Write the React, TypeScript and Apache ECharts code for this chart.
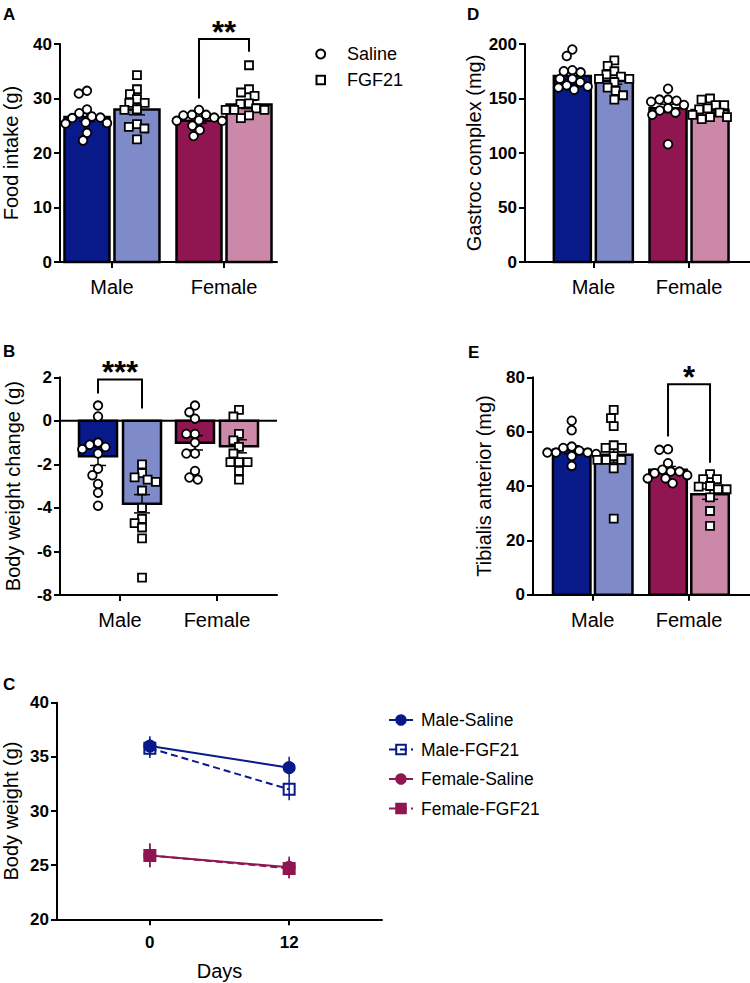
import React, { useEffect, useRef } from 'react';
import * as echarts from 'echarts';

const FONT = '"Liberation Sans", Arial, Helvetica, sans-serif';
const BLACK = '#000000';
const NAVY = '#08198a';
const LIGHT_BLUE = '#7e8bc8';
const CRIMSON = '#8f1651';
const PINK = '#cc88a8';

const groups = ['Male', 'Female'];
const treatments = ['Saline', 'FGF21'];
const barColors = [[NAVY, LIGHT_BLUE], [CRIMSON, PINK]];

// ---------- A: Food intake (g)
const foodSalineMale = [31.4, 30.9, 28.0, 27.3, 26.7, 26.5, 26.4, 25.6, 25.5, 25.4, 23.7, 22.3];
const foodFGF21Male = [34.3, 31.7, 30.8, 29.9, 29.2, 29.2, 28.0, 27.9, 25.3, 24.8, 24.5, 22.5];
const foodSalineFemale = [27.9, 27.0, 27.0, 26.9, 26.5, 26.0, 25.9, 25.9, 25.0, 24.2, 23.1];
const foodFGF21Female = [36.1, 31.7, 31.1, 30.5, 29.1, 29.0, 28.2, 27.9, 27.9, 27.9, 26.9, 26.4];
const foodSalineMean = [26.6, 25.9];
const foodFGF21Mean = [28.0, 28.9];
const foodSalineSem = [0.8, 0.45];
const foodFGF21Sem = [1.0, 0.75];
const foodSig = { group: 1, top: 40.9, left: 30.0, right: 38.6, label: '**' };

// ---------- B: Body weight change (g)
const bwSalineMale = [0.7, 0.2, -1.0, -1.1, -1.2, -1.3, -1.5, -2.2, -2.5, -2.9, -3.3, -3.9];
const bwFGF21Male = [-2.0, -2.4, -2.6, -2.7, -2.8, -3.2, -4.0, -4.5, -4.7, -4.9, -5.4, -7.2];
const bwSalineFemale = [0.7, 0.4, 0.1, -0.6, -0.6, -1.0, -1.5, -1.5, -2.3, -2.6, -2.7];
const bwFGF21Female = [0.5, 0.2, -0.6, -0.9, -1.2, -1.5, -1.9, -1.9, -1.9, -2.3, -2.7];
const bwSalineMean = [-1.63, -1.01];
const bwFGF21Mean = [-3.81, -1.17];
const bwSalineSem = [0.42, 0.33];
const bwFGF21Sem = [0.42, 0.3];
const bwSig = { group: 0, top: 1.9, left: 1.26, right: 0.57, label: '***' };

// ---------- D: Gastroc complex (mg)
const gastrocSalineMale = [195, 189, 176, 175, 174, 168, 168, 165, 162, 161, 160, 158];
const gastrocFGF21Male = [185, 180, 175, 172, 170, 168, 168, 165, 160, 157, 153, 149];
const gastrocSalineFemale = [159, 149, 149, 148, 147, 144, 141, 139, 137, 135, 108];
const gastrocFGF21Female = [150, 149, 144, 144, 141, 140, 137, 135, 133, 133, 131];
const gastrocSalineMean = [170.6, 141.0];
const gastrocFGF21Mean = [166.0, 139.4];
const gastrocSalineSem = [3.2, 3.8];
const gastrocFGF21Sem = [3.0, 1.8];

// ---------- E: Tibialis anterior (mg)
const taSalineMale = [64, 60.5, 54.5, 54, 53, 52.3, 52.3, 52.3, 51.8, 51, 47.4];
const taFGF21Male = [68, 65, 62, 55, 54, 54, 51, 49.6, 49.6, 49.6, 46.5, 28];
const taSalineFemale = [53.5, 53.3, 48.4, 46, 45.3, 45.3, 44.7, 44, 42.8, 42.8, 41];
const taFGF21Female = [44.4, 42.5, 42.5, 40, 39.8, 38.8, 38.8, 35.8, 30.8, 25.3];
const taSalineMean = [53.3, 46.0];
const taFGF21Mean = [51.5, 37.0];
const taSalineSem = [1.5, 1.2];
const taFGF21Sem = [3.0, 1.9];
const taSig = { group: 1, top: 77.4, left: 58.2, right: 48.6, label: '*' };

// ---------- C: Body weight (g) over days
const days = [0, 12];
const maleSalineBW = [36.0, 34.0];
const maleSalineBWSem = [0.9, 1.0];
const maleFGF21BW = [35.8, 32.0];
const maleFGF21BWSem = [0.9, 1.0];
const femaleSalineBW = [25.9, 24.8];
const femaleSalineBWSem = [1.1, 1.0];
const femaleFGF21BW = [25.9, 24.7];
const femaleFGF21BWSem = [1.1, 0.9];

function beeswarm(values: number[], pxPerUnit: number, d: number): number[] {
  const order = values.map((_, i) => i).sort((a, b) => values[b] - values[a]);
  const placed: { x: number; y: number }[] = [];
  const out = new Array(values.length).fill(0);
  for (const i of order) {
    const y = values[i] * pxPerUnit;
    const forb: [number, number][] = [];
    for (const p of placed) {
      const dy = Math.abs(p.y - y);
      if (dy < d) {
        const dx = Math.sqrt(d * d - dy * dy);
        forb.push([p.x - dx, p.x + dx]);
      }
    }
    const cands = [0];
    forb.forEach(([a, b]) => cands.push(a, b));
    cands.sort((a, b) => Math.abs(a) - Math.abs(b));
    let chosen = 0;
    for (const c of cands) {
      if (!forb.some(([a, b]) => c > a + 1e-6 && c < b - 1e-6)) {
        chosen = c;
        break;
      }
    }
    out[i] = chosen;
    placed.push({ x: chosen, y });
  }
  return out;
}

const barPanels = [
  {
    key: 'A', grid: { left: 60, top: 44, width: 217, height: 218 }, x: [-0.464, 1.473], y: [0, 40, 10],
    bw: 45, off: 25, cap: 16, name: 'Food intake (g)', nameGap: 39,
    salineMean: foodSalineMean, fgfMean: foodFGF21Mean, salineSem: foodSalineSem, fgfSem: foodFGF21Sem,
    points: [[foodSalineMale, foodFGF21Male], [foodSalineFemale, foodFGF21Female]], sig: foodSig, zero: false,
  },
  {
    key: 'B', grid: { left: 60, top: 377.3, width: 217, height: 217.7 }, x: [-0.619, 1.619], y: [-8, 2, 2],
    bw: 38, off: 22, cap: 16, name: 'Body weight change (g)', nameGap: 37,
    salineMean: bwSalineMean, fgfMean: bwFGF21Mean, salineSem: bwSalineSem, fgfSem: bwFGF21Sem,
    points: [[bwSalineMale, bwFGF21Male], [bwSalineFemale, bwFGF21Female]], sig: bwSig, zero: true,
  },
  {
    key: 'D', grid: { left: 525, top: 44, width: 225, height: 218 }, x: [-0.714, 1.637], y: [0, 200, 50],
    bw: 37, off: 21, cap: 16, name: 'Gastroc complex (mg)', nameGap: 41,
    salineMean: gastrocSalineMean, fgfMean: gastrocFGF21Mean, salineSem: gastrocSalineSem, fgfSem: gastrocFGF21Sem,
    points: [[gastrocSalineMale, gastrocFGF21Male], [gastrocSalineFemale, gastrocFGF21Female]], sig: null, zero: false,
  },
  {
    key: 'E', grid: { left: 533, top: 377.3, width: 217, height: 217.4 }, x: [-0.62, 1.633], y: [0, 80, 20],
    bw: 37.5, off: 21, cap: 16, name: 'Tibialis anterior (mg)', nameGap: 39,
    salineMean: taSalineMean, fgfMean: taFGF21Mean, salineSem: taSalineSem, fgfSem: taFGF21Sem,
    points: [[taSalineMale, taFGF21Male], [taSalineFemale, taFGF21Female]], sig: taSig, zero: false,
  },
];

const lineGroups = [
  { name: 'Male-Saline', values: maleSalineBW, sem: maleSalineBWSem, color: NAVY, symbol: 'circle', dashed: false, fill: NAVY },
  { name: 'Male-FGF21', values: maleFGF21BW, sem: maleFGF21BWSem, color: NAVY, symbol: 'rect', dashed: true, fill: 'rgba(255,255,255,0)' },
  { name: 'Female-Saline', values: femaleSalineBW, sem: femaleSalineBWSem, color: CRIMSON, symbol: 'circle', dashed: false, fill: CRIMSON },
  { name: 'Female-FGF21', values: femaleFGF21BW, sem: femaleFGF21BWSem, color: CRIMSON, symbol: 'rect', dashed: true, fill: CRIMSON },
];

const axisLineStyle = { color: BLACK, width: 2 };
const tickLabel = { fontFamily: FONT, fontSize: 17, fontWeight: 'bold', color: BLACK };

function buildOption(): any {
  const grid: any[] = [];
  const xAxis: any[] = [];
  const yAxis: any[] = [];
  const series: any[] = [];

  barPanels.forEach((p, i) => {
    grid.push({ ...p.grid });
    xAxis.push({
      type: 'value', gridIndex: i, min: p.x[0], max: p.x[1],
      splitLine: { show: false },
      axisLine: { show: true, onZero: false, lineStyle: axisLineStyle },
      axisTick: { show: true, customValues: [0, 1], length: 6, lineStyle: axisLineStyle },
      axisLabel: {
        customValues: [0, 1], formatter: (v: number) => groups[Math.round(v)] ?? '',
        fontFamily: FONT, fontSize: 20, color: BLACK, margin: 15,
      },
    });
    yAxis.push({
      type: 'value', gridIndex: i, min: p.y[0], max: p.y[1], interval: p.y[2],
      splitLine: { show: false },
      axisLine: { show: true, onZero: false, lineStyle: axisLineStyle },
      axisTick: { show: true, length: 6, lineStyle: axisLineStyle },
      axisLabel: { ...tickLabel, margin: 8 },
      name: p.name, nameLocation: 'middle', nameGap: p.nameGap, nameRotate: 90,
      nameTextStyle: { fontFamily: FONT, fontSize: 20, color: BLACK },
    });
    const ax = { coordinateSystem: 'cartesian2d', xAxisIndex: i, yAxisIndex: i };

    if (p.zero) {
      series.push({
        type: 'custom', ...ax, silent: true, data: [[0, 0]],
        renderItem: (_: any, api: any) => {
          const a = api.coord([p.x[0], 0]);
          const b = api.coord([p.x[1], 0]);
          return { type: 'line', shape: { x1: a[0], y1: a[1], x2: b[0], y2: b[1] }, style: { stroke: BLACK, lineWidth: 2 } };
        },
      });
    }

    const barData: number[][] = [];
    groups.forEach((_, gi) => {
      barData.push([gi, p.salineMean[gi], 0, p.salineSem[gi]]);
      barData.push([gi, p.fgfMean[gi], 1, p.fgfSem[gi]]);
    });

    series.push({
      type: 'custom', ...ax, silent: true, data: barData,
      renderItem: (_: any, api: any) => {
        const g = api.value(0), v = api.value(1), t = api.value(2);
        const base = api.coord([g, 0]);
        const top = api.coord([g, v]);
        const cx = base[0] + (t === 0 ? -p.off : p.off);
        return {
          type: 'rect',
          shape: { x: cx - p.bw / 2, y: Math.min(base[1], top[1]), width: p.bw, height: Math.abs(top[1] - base[1]) },
          style: { fill: barColors[g][t], stroke: BLACK, lineWidth: 2.5 },
        };
      },
    });

    series.push({
      type: 'custom', ...ax, silent: true, data: barData,
      renderItem: (_: any, api: any) => {
        const g = api.value(0), v = api.value(1), t = api.value(2), s = api.value(3);
        const hi = api.coord([g, v + s]);
        const lo = api.coord([g, v - s]);
        const cx = hi[0] + (t === 0 ? -p.off : p.off);
        const cw = p.cap / 2;
        const st = { stroke: BLACK, lineWidth: 1.5 };
        return {
          type: 'group', children: [
            { type: 'line', shape: { x1: cx, y1: hi[1], x2: cx, y2: lo[1] }, style: st },
            { type: 'line', shape: { x1: cx - cw, y1: hi[1], x2: cx + cw, y2: hi[1] }, style: st },
            { type: 'line', shape: { x1: cx - cw, y1: lo[1], x2: cx + cw, y2: lo[1] }, style: st },
          ],
        };
      },
    });

    const ppu = p.grid.height / (p.y[1] - p.y[0]);
    const ptData: number[][] = [];
    p.points.forEach((byT, gi) => byT.forEach((vals, t) => {
      const dx = beeswarm(vals, ppu, 8.6);
      vals.forEach((v, k) => ptData.push([gi, v, t, dx[k]]));
    }));
    series.push({
      type: 'custom', ...ax, silent: true, data: ptData,
      renderItem: (_: any, api: any) => {
        const g = api.value(0), v = api.value(1), t = api.value(2), dx = api.value(3);
        const c = api.coord([g, v]);
        const cx = c[0] + (t === 0 ? -p.off : p.off) + dx;
        const st = { fill: '#ffffff', stroke: BLACK, lineWidth: 1.8 };
        if (t === 0) return { type: 'circle', shape: { cx, cy: c[1], r: 4.3 }, style: st };
        return { type: 'rect', shape: { x: cx - 4, y: c[1] - 4, width: 8, height: 8 }, style: st };
      },
    });

    if (p.sig) {
      const sig = p.sig;
      series.push({
        type: 'custom', ...ax, silent: true, clip: false, data: [[sig.group, sig.top, sig.left, sig.right]],
        renderItem: (_: any, api: any) => {
          const g = api.value(0);
          const top = api.coord([g, api.value(1)]);
          const l = api.coord([g, api.value(2)]);
          const r = api.coord([g, api.value(3)]);
          const xl = top[0] - p.off;
          const xr = top[0] + p.off;
          return {
            type: 'group', children: [
              {
                type: 'polyline',
                shape: { points: [[xl, l[1]], [xl, top[1]], [xr, top[1]], [xr, r[1]]] },
                style: { stroke: BLACK, lineWidth: 2, fill: 'none' },
              },
              {
                type: 'text', x: (xl + xr) / 2, y: top[1] - 7,
                style: { text: sig.label, font: `bold 31px ${FONT}`, fill: BLACK, align: 'center', verticalAlign: 'middle' },
              },
            ],
          };
        },
      });
    }
  });

  // Panel C
  const ci = barPanels.length;
  grid.push({ left: 56, top: 702.7, width: 326, height: 216.6 });
  xAxis.push({
    type: 'value', gridIndex: ci, min: -8, max: 20,
    splitLine: { show: false },
    axisLine: { show: true, onZero: false, lineStyle: axisLineStyle },
    axisTick: { show: true, customValues: days, length: 6, lineStyle: axisLineStyle },
    axisLabel: { ...tickLabel, customValues: days, margin: 15 },
    name: 'Days', nameLocation: 'middle', nameGap: 42,
    nameTextStyle: { fontFamily: FONT, fontSize: 20, color: BLACK },
  });
  yAxis.push({
    type: 'value', gridIndex: ci, min: 20, max: 40, interval: 5,
    splitLine: { show: false },
    axisLine: { show: true, onZero: false, lineStyle: axisLineStyle },
    axisTick: { show: true, length: 6, lineStyle: axisLineStyle },
    axisLabel: { ...tickLabel, margin: 8 },
    name: 'Body weight (g)', nameLocation: 'middle', nameGap: 36, nameRotate: 90,
    nameTextStyle: { fontFamily: FONT, fontSize: 20, color: BLACK },
  });
  lineGroups.forEach((lg) => {
    series.push({
      type: 'line', name: lg.name, xAxisIndex: ci, yAxisIndex: ci,
      data: days.map((d, k) => [d, lg.values[k]]),
      symbol: lg.symbol, symbolSize: 11, showSymbol: true,
      lineStyle: { color: lg.color, width: 2, type: lg.dashed ? [7, 4] : 'solid' },
      itemStyle: { color: lg.fill, borderColor: lg.color, borderWidth: 2 },
      emphasis: { disabled: true },
    });
  });
  const errData: number[][] = [];
  lineGroups.forEach((lg, gi) => days.forEach((d, k) => errData.push([d, lg.values[k], lg.sem[k], gi])));
  series.push({
    type: 'custom', coordinateSystem: 'cartesian2d', xAxisIndex: ci, yAxisIndex: ci, silent: true, z: 5,
    data: errData,
    renderItem: (_: any, api: any) => {
      const d = api.value(0), v = api.value(1), s = api.value(2), gi = api.value(3);
      const hi = api.coord([d, v + s]);
      const lo = api.coord([d, v - s]);
      return { type: 'line', shape: { x1: hi[0], y1: hi[1], x2: lo[0], y2: lo[1] }, style: { stroke: lineGroups[gi].color, lineWidth: 1.5 } };
    },
  });

  const letter = (t: string, x: number, y: number) => ({
    type: 'text', x, y, silent: true,
    style: { text: t, font: `bold 17px ${FONT}`, fill: BLACK, textVerticalAlign: 'middle' },
  });

  const graphic: any[] = [
    letter('A', 3, 14), letter('B', 3, 351), letter('C', 3, 684), letter('D', 467, 14), letter('E', 468, 352),
    { type: 'circle', shape: { cx: 320.7, cy: 54, r: 4.5 }, style: { fill: '#ffffff', stroke: BLACK, lineWidth: 2 } },
    { type: 'text', x: 347, y: 54, style: { text: treatments[0], font: `18px ${FONT}`, fill: BLACK, textVerticalAlign: 'middle' } },
    { type: 'rect', shape: { x: 316.5, y: 75.8, width: 8.5, height: 8.5 }, style: { fill: '#ffffff', stroke: BLACK, lineWidth: 2 } },
    { type: 'text', x: 347, y: 80, style: { text: treatments[1], font: `18px ${FONT}`, fill: BLACK, textVerticalAlign: 'middle' } },
  ];

  return {
    animation: false,
    backgroundColor: '#ffffff',
    textStyle: { fontFamily: FONT },
    grid, xAxis, yAxis, series, graphic,
    legend: [{
      data: lineGroups.map((l) => l.name),
      orient: 'vertical', left: 383, top: 706,
      itemWidth: 24, itemHeight: 12, itemGap: 11.5, selectedMode: false,
      textStyle: { fontFamily: FONT, fontSize: 17.5, color: BLACK, padding: [0, 0, 0, 3] },
    }],
  };
}

export default function App() {
  const ref = useRef<HTMLDivElement>(null);
  useEffect(() => {
    if (!ref.current) return;
    const chart = echarts.init(ref.current, null, { renderer: 'svg' });
    chart.setOption(buildOption());
    return () => chart.dispose();
  }, []);
  return (
    <div
      ref={ref}
      style={{ position: 'absolute', left: 0, top: 0, width: 750, height: 983, background: '#ffffff' }}
    />
  );
}
